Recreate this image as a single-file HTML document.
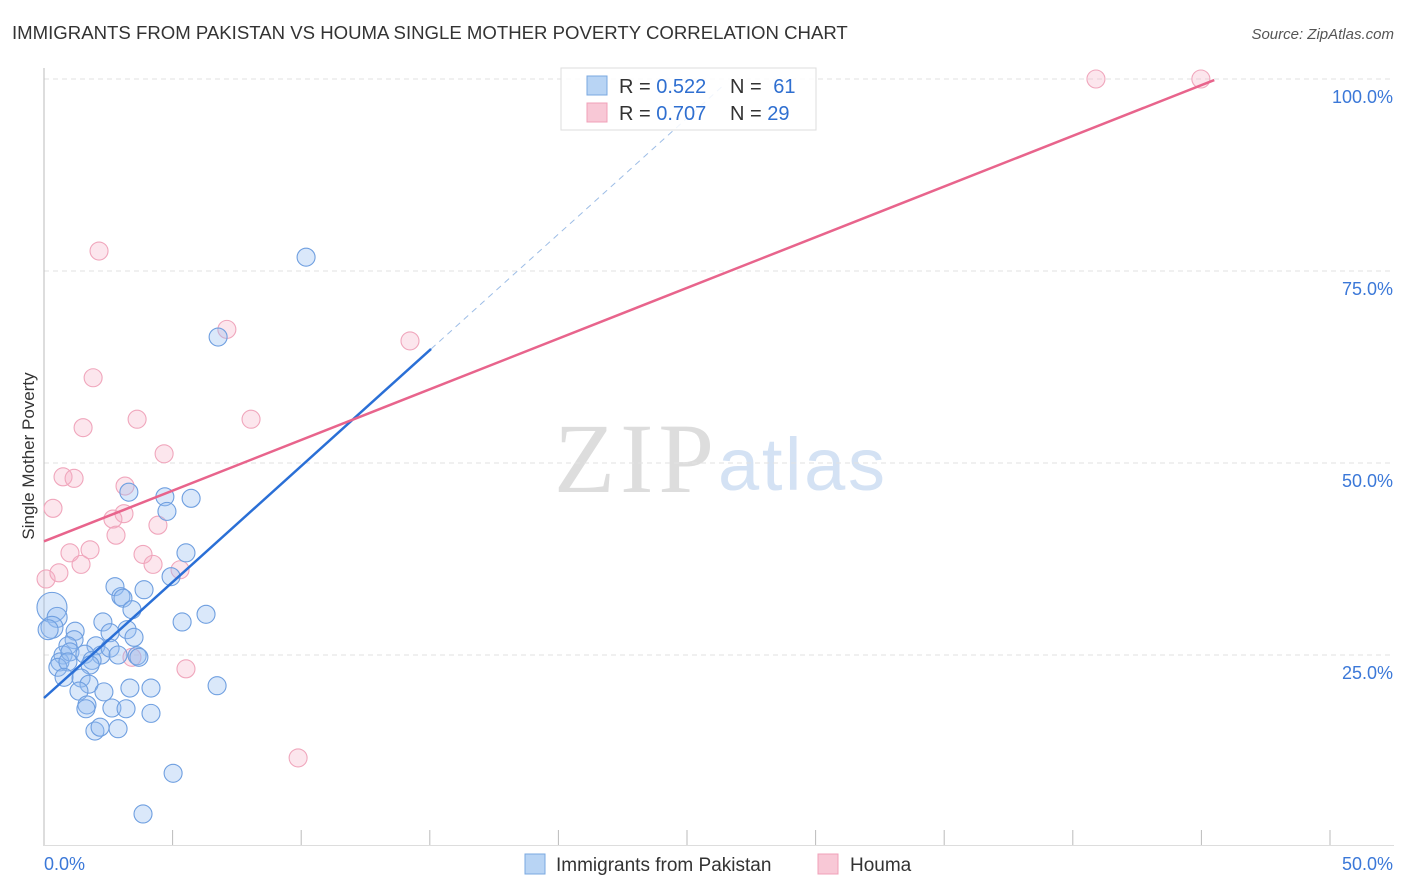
<!DOCTYPE html>
<html><head><meta charset="utf-8"><style>
body{margin:0;background:#fff;font-family:"Liberation Sans",sans-serif;}
svg{display:block}
</style></head><body>
<svg id="chart" width="1406" height="892" xmlns="http://www.w3.org/2000/svg">
<text x="12" y="39" font-size="18.6" fill="#333">IMMIGRANTS FROM PAKISTAN VS HOUMA SINGLE MOTHER POVERTY CORRELATION CHART</text>
<text x="1394" y="39" font-size="15" fill="#555" font-style="italic" text-anchor="end">Source: ZipAtlas.com</text>
<text x="714" y="492" font-size="100" fill="#ddd" font-family="Liberation Serif,serif" text-anchor="end" textLength="160">ZIP</text>
<text x="718" y="490" font-size="74" fill="#d4e2f4" textLength="167">atlas</text>
<g id="grid"></g>
<line x1="44" y1="68" x2="44" y2="846" stroke="#bbb"/>
<line x1="44" y1="845.5" x2="1394" y2="845.5" stroke="#ddd"/>
<text transform="translate(34,456) rotate(-90)" font-size="17" fill="#333" text-anchor="middle">Single Mother Poverty</text>
<g id="pts"></g>
<g id="lines"></g>
<g>
<rect x="561" y="68" width="255" height="62" fill="rgba(255,255,255,0.85)" stroke="#ddd"/>
<rect x="587" y="76" width="20" height="19" fill="#b8d4f4" stroke="#7aa8e0"/>
<text x="619" y="93" font-size="20" fill="#333">R = <tspan fill="#2f6fd0">0.522</tspan></text>
<text x="730" y="93" font-size="20" fill="#333">N = <tspan fill="#2f6fd0" dx="6">61</tspan></text>
<rect x="587" y="103" width="20" height="19" fill="#f8c8d6" stroke="#f0a0b8"/>
<text x="619" y="120" font-size="20" fill="#333">R = <tspan fill="#2f6fd0">0.707</tspan></text>
<text x="730" y="120" font-size="20" fill="#333">N = <tspan fill="#2f6fd0">29</tspan></text>
</g>
<g>
<rect x="525" y="854" width="20" height="20" fill="#b8d4f4" stroke="#7aa8e0"/>
<text x="556" y="871" font-size="19" fill="#333">Immigrants from Pakistan</text>
<rect x="818" y="854" width="20" height="20" fill="#f8c8d6" stroke="#f0a0b8"/>
<text x="850" y="871" font-size="19" fill="#333">Houma</text>
</g>
</svg>
<script>
const yTicks=[25,50,75,100];
const yTickLabels=["25.0%","50.0%","75.0%","100.0%"];
const xTickCount=10;
const xLabels=["0.0%","50.0%"];
const blueX=[10.19,6.77,3.30,4.70,5.72,4.78,5.52,4.94,2.76,3.89,2.99,3.07,3.42,6.30,5.37,0.31,0.51,0.31,0.16,2.29,2.57,3.23,3.50,1.21,1.17,0.93,2.02,2.22,2.57,2.88,3.62,3.69,0.74,0.62,1.01,1.59,1.87,0.54,0.93,0.78,1.79,1.44,1.75,1.36,2.33,3.34,4.16,6.73,2.64,3.19,1.67,1.63,4.16,1.98,2.18,2.88,5.02,3.85];
const blueY=[76.8,66.4,46.2,45.6,45.4,43.7,38.3,35.2,33.9,33.5,32.6,32.4,30.9,30.3,29.3,31.2,29.9,28.6,28.3,29.3,27.9,28.3,27.3,28.1,27.0,26.2,26.2,25.0,25.9,25.0,24.9,24.7,25.0,24.1,25.4,25.1,24.3,23.4,24.1,22.1,23.7,22.0,21.2,20.3,20.2,20.7,20.7,21.0,18.1,18.0,18.5,18.0,17.4,15.1,15.6,15.4,9.6,4.3];
const blueR=[9,9,9,9,9,9,9,9,9,9,9,9,9,9,9,15,10,11,10,9,9,9,9,9,9,9,9,9,9,9,9,9,9,9,9,9,9,9,9,9,9,9,9,9,9,9,9,9,9,9,9,9,9,9,9,9,9,9];
const pinkX=[40.90,44.98,2.14,7.11,14.23,1.91,3.62,8.05,1.52,4.67,0.74,1.17,0.35,3.15,3.11,2.68,2.80,4.43,1.79,1.01,3.85,1.44,4.24,5.29,0.08,0.58,3.42,5.52,9.88];
const pinkY=[100,100,77.6,67.4,65.9,61.1,55.7,55.7,54.6,51.2,48.2,48.0,44.1,47.0,43.4,42.7,40.6,41.9,38.7,38.3,38.1,36.8,36.8,36.1,34.9,35.7,24.7,23.2,11.6];
const blueFit=[19.4,3.02,15.05,26.4]; // intercept, slope, solid end x, dashed end x
const pinkFit=[39.8,1.32,45.5];
const NS="http://www.w3.org/2000/svg";
const sx=v=>44+v/50*1286, sy=v=>847-v/100*768;
function mk(t,a,p){const e=document.createElementNS(NS,t);for(const k in a)e.setAttribute(k,a[k]);p.appendChild(e);return e;}
const g=document.getElementById('grid');
yTicks.forEach((t,i)=>{
 const l=mk('line',{x1:44,x2:1394,y1:sy(t),y2:sy(t),stroke:'#e2e2e2','stroke-dasharray':'5,4'},g);
 
 
 const tx=mk('text',{x:1393,y:sy(t)+24,'font-size':18,fill:'#3b78d8','text-anchor':'end'},g);
 tx.textContent=yTickLabels[i];
 
 
});
for(let i=1;i<=xTickCount;i++){
 const l=mk('line',{x1:sx(i*5),x2:sx(i*5),y1:830,y2:846,stroke:'#bbb'},g);
 
 
}
const xl0=mk('text',{x:44,y:870,'font-size':18,fill:'#3b78d8'},g);xl0.textContent=xLabels[0];


const xl1=mk('text',{x:1393,y:870,'font-size':18,fill:'#3b78d8','text-anchor':'end'},g);xl1.textContent=xLabels[1];


const P=document.getElementById('pts');
pinkX.forEach((x,i)=>{
 const c=mk('circle',{cx:sx(x),cy:sy(pinkY[i]),r:9,fill:'rgba(246,172,194,0.3)',stroke:'#f0a6bc','stroke-width':1.1},P);
 
 
});
blueX.forEach((x,i)=>{
 const c=mk('circle',{cx:sx(x),cy:sy(blueY[i]),r:blueR[i],fill:'rgba(150,190,240,0.35)',stroke:'#6f9fe0','stroke-width':1.1},P);
 
 
});
const L=document.getElementById('lines');
const bl=mk('line',{x1:sx(0),y1:sy(blueFit[0]),x2:sx(blueFit[2]),y2:sy(blueFit[0]+blueFit[1]*blueFit[2]),stroke:'#2a6fd6','stroke-width':2.5},L);


const bd=mk('line',{x1:sx(blueFit[2]),y1:sy(blueFit[0]+blueFit[1]*blueFit[2]),x2:sx(blueFit[3]),y2:sy(blueFit[0]+blueFit[1]*blueFit[3]),stroke:'#9dbde6','stroke-width':1,'stroke-dasharray':'6,5'},L);


const pl=mk('line',{x1:sx(0),y1:sy(pinkFit[0]),x2:sx(pinkFit[2]),y2:sy(pinkFit[0]+pinkFit[1]*pinkFit[2]),stroke:'#e8648c','stroke-width':2.5},L);


</script>
</body></html>
